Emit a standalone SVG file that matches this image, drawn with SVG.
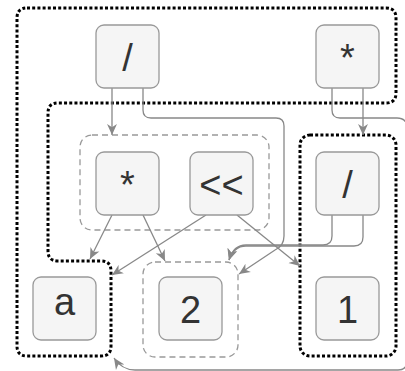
<svg xmlns="http://www.w3.org/2000/svg" width="405" height="371" viewBox="0 0 405 371">
<defs>
<style>
.node rect{fill:#f5f5f5;stroke:#999;stroke-width:1.3}
.node text{font-family:"Liberation Sans",Arial,sans-serif;font-size:38px;fill:#333;text-anchor:middle}
.dash{fill:none;stroke:#999;stroke-width:1.3;stroke-dasharray:6 4}
.dot{fill:none;stroke:#000;stroke-width:3;stroke-dasharray:3 2.2}
.edge{fill:none;stroke:#888;stroke-width:1.3;marker-end:url(#arr)}
</style>
<marker id="arr" viewBox="0 0 10 10" refX="10" refY="5" markerWidth="11" markerHeight="11" markerUnits="userSpaceOnUse" orient="auto">
<path d="M0,0.5 L10,5 L0,9.5 L3,5 z" fill="#888"/>
</marker>
</defs>
<g id="groups">
<path class="dot" d="M27,8 H386 Q396,8 396,18 V93 Q396,103 386,103 H58 Q48,103 48,113 V251 Q48,261 58,261 H101 Q111,261 111,271 V346 Q111,356 101,356 H27 Q17,356 17,346 V18 Q17,8 27,8 Z"/>
<rect class="dot" x="300" y="135" width="96" height="221" rx="10"/>
<rect class="dash" x="80" y="135" width="189" height="95" rx="12"/>
<rect class="dash" x="143" y="262" width="95" height="95" rx="12"/>
</g>
<g id="connectors">
<path class="edge" d="M112,88 V135"/>
<path class="edge" d="M143,88 V110 Q143,118 151,118 H276 Q284,118 284,126 V236 Q284,246 275,250 L239,274"/>
<path class="edge" d="M112,215 L90,259"/>
<path class="edge" d="M143,215 L165,261"/>
<path class="edge" d="M206,215 L112,275"/>
<path class="edge" d="M237,215 L300,266"/>
<path class="edge" d="M332,88 V110 Q332,118 340,118 H397 Q407,118 407,128 V361 Q407,370 398,370 H135 Q122,370 114,358"/>
<path class="edge" d="M363,88 V135"/>
<path class="edge" d="M332,215 V236 Q332,245 323,245 H246 C238,245 232,250 229,260"/>
<path class="edge" d="M363,215 V237 Q363,246 354,246 H246 C238,246 232,251 229,260"/>
</g>
<g id="n1" class="node"><rect x="96" y="25" width="63" height="63" rx="8"/><text x="127.5" y="70.5">/</text></g>
<g id="n2" class="node"><rect x="316" y="25" width="63" height="63" rx="8"/><text x="347.5" y="70.5">*</text></g>
<g id="n3" class="node"><rect x="96" y="152" width="63" height="63" rx="8"/><text x="127.5" y="197.5">*</text></g>
<g id="n4" class="node"><rect x="190" y="152" width="63" height="63" rx="8"/><text x="221.5" y="197.5">&lt;&lt;</text></g>
<g id="n5" class="node"><rect x="316" y="152" width="63" height="63" rx="8"/><text x="347.5" y="197.5">/</text></g>
<g id="n6" class="node"><rect x="33" y="277" width="63" height="63" rx="8"/><text x="64.5" y="315">a</text></g>
<g id="n7" class="node"><rect x="159" y="277" width="63" height="63" rx="8"/><text x="190.5" y="322.5">2</text></g>
<g id="n8" class="node"><rect x="316" y="277" width="63" height="63" rx="8"/><text x="347.5" y="322.5">1</text></g>
</svg>
